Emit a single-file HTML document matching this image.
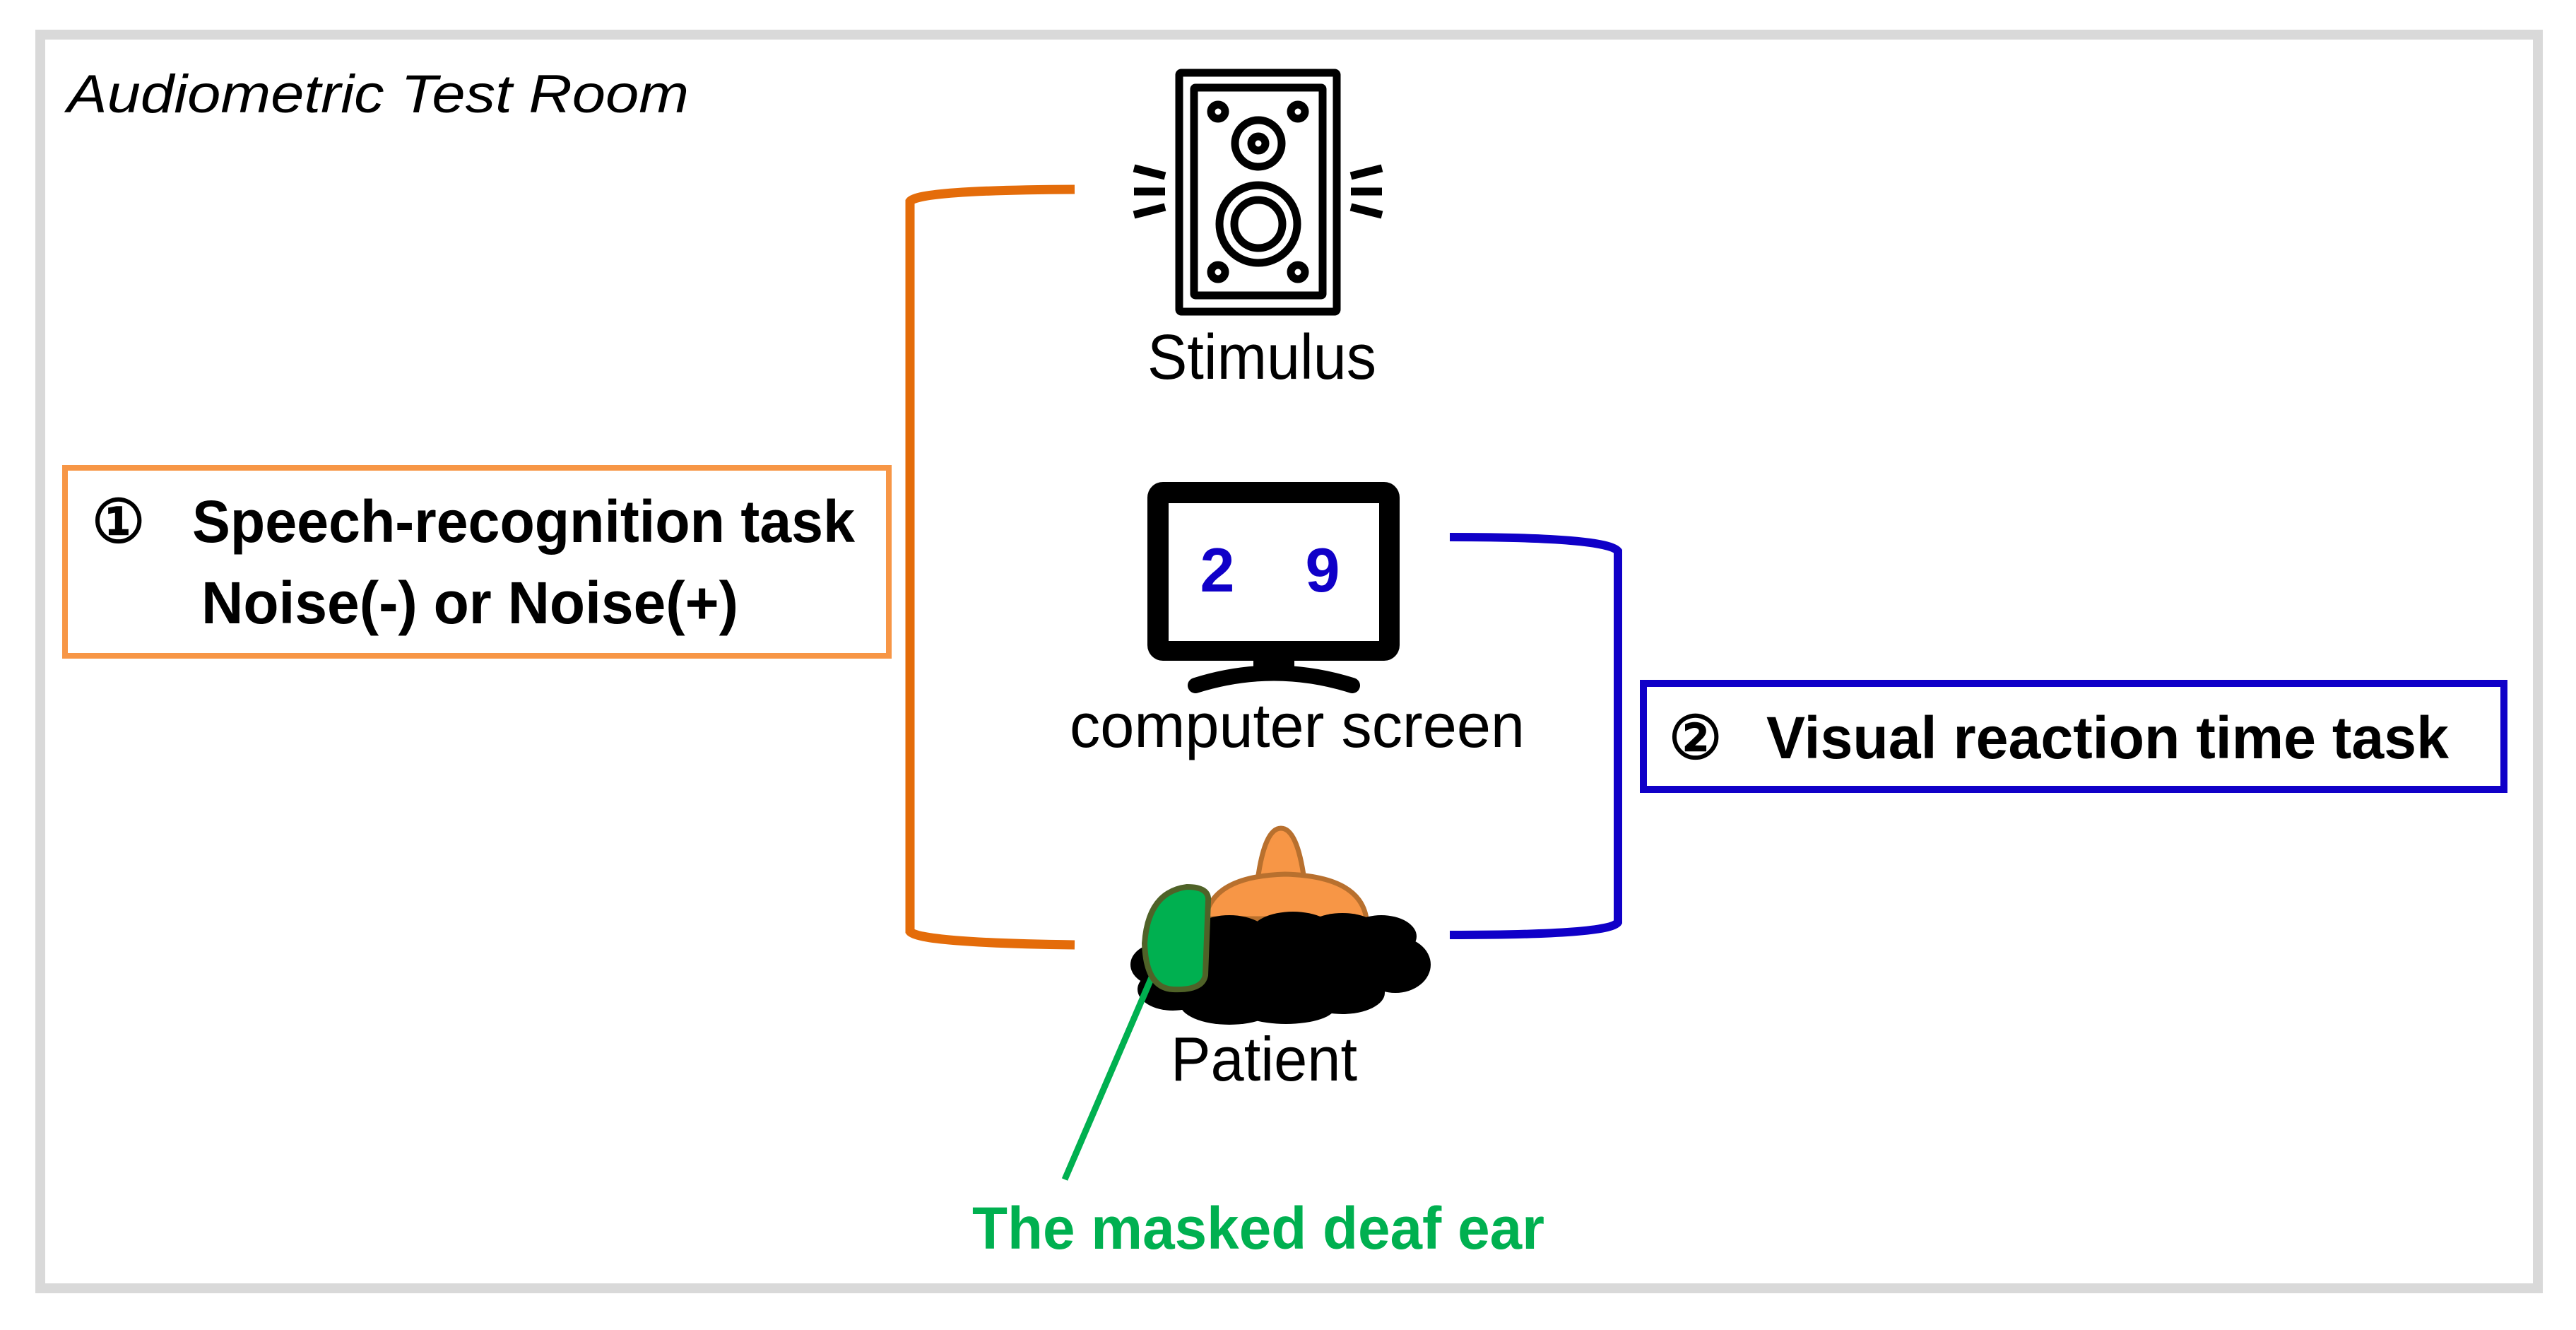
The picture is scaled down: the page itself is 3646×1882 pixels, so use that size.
<!DOCTYPE html>
<html><head><meta charset="utf-8"><style>html,body{margin:0;padding:0;background:#fff}svg{display:block}</style></head>
<body>
<svg width="3646" height="1882" viewBox="0 0 3646 1882" xmlns="http://www.w3.org/2000/svg" font-family="'Liberation Sans', sans-serif">
<rect x="0" y="0" width="3646" height="1882" fill="#fff"/>
<rect x="57" y="49" width="3535" height="1774" fill="none" stroke="#d9d9d9" stroke-width="14"/>
<text x="95" y="159" font-size="76" font-style="italic" textLength="880" lengthAdjust="spacingAndGlyphs">Audiometric Test Room</text>

<!-- orange bracket -->
<path d="M1521,268 Q1300,269 1288,285 L1288,1318 Q1300,1334 1521,1337" fill="none" stroke="#e46c0a" stroke-width="13"/>
<rect x="92" y="662" width="1166" height="266" fill="none" stroke="#f79646" stroke-width="8"/>
<text x="130" y="767" font-size="84" font-weight="bold">①</text>
<text x="272" y="767" font-size="84" font-weight="bold" textLength="938" lengthAdjust="spacingAndGlyphs">Speech-recognition task</text>
<text x="285" y="882" font-size="84" font-weight="bold" textLength="760" lengthAdjust="spacingAndGlyphs">Noise(-) or Noise(+)</text>

<!-- speaker -->
<g fill="none" stroke="#000" stroke-width="11">
<rect x="1669" y="103" width="223" height="338" rx="3"/>
<rect x="1690" y="124" width="182" height="294" rx="2"/>
<circle cx="1781" cy="203" r="33"/>
<circle cx="1781" cy="203" r="10"/>
<circle cx="1781" cy="317" r="55"/>
<circle cx="1781" cy="317" r="34"/>
<circle cx="1724" cy="158" r="10"/>
<circle cx="1837" cy="158" r="10"/>
<circle cx="1724" cy="385" r="10"/>
<circle cx="1837" cy="385" r="10"/>
<line x1="1605" y1="238" x2="1649" y2="249"/>
<line x1="1605" y1="271" x2="1649" y2="271"/>
<line x1="1605" y1="304" x2="1649" y2="293"/>
<line x1="1956" y1="238" x2="1912" y2="249"/>
<line x1="1956" y1="271" x2="1912" y2="271"/>
<line x1="1956" y1="304" x2="1912" y2="293"/>
</g>
<text x="1624" y="536" font-size="90" textLength="324" lengthAdjust="spacingAndGlyphs">Stimulus</text>

<!-- monitor -->
<rect x="1624" y="682" width="357" height="253" rx="22" fill="#000"/>
<rect x="1654" y="712" width="298" height="195" fill="#fff"/>
<rect x="1774" y="930" width="58" height="32" fill="#000"/>
<path d="M1692,970 Q1803,935 1914,970" fill="none" stroke="#000" stroke-width="22" stroke-linecap="round"/>
<text x="1723" y="837" font-size="88" font-weight="bold" fill="#1000c8" text-anchor="middle">2</text>
<text x="1872" y="837" font-size="88" font-weight="bold" fill="#1000c8" text-anchor="middle">9</text>
<text x="1514" y="1057" font-size="88" textLength="644" lengthAdjust="spacingAndGlyphs">computer screen</text>

<!-- blue bracket -->
<path d="M2052,760 Q2275,760 2290,780 L2290,1305 Q2280,1323 2052,1323" fill="none" stroke="#1000c8" stroke-width="12"/>
<rect x="2326" y="967" width="1218" height="150" fill="none" stroke="#1000c8" stroke-width="10"/>
<text x="2362" y="1073" font-size="84" font-weight="bold">②</text>
<text x="2500" y="1073" font-size="84" font-weight="bold" textLength="966" lengthAdjust="spacingAndGlyphs">Visual reaction time task</text>

<!-- patient -->
<path d="M1780,1245 Q1790,1172 1813,1172 Q1836,1172 1846,1245 Z" fill="#f79646" stroke="#b8702e" stroke-width="7"/>
<path d="M1706,1300 Q1715,1240 1819,1237 Q1925,1240 1934,1300 Z" fill="#f79646" stroke="#b8702e" stroke-width="7"/>
<g fill="#000">
<ellipse cx="1640" cy="1365" rx="40" ry="30"/>
<ellipse cx="1660" cy="1400" rx="50" ry="30"/>
<ellipse cx="1740" cy="1420" rx="70" ry="30"/>
<ellipse cx="1820" cy="1425" rx="70" ry="24"/>
<ellipse cx="1900" cy="1405" rx="60" ry="30"/>
<ellipse cx="1975" cy="1365" rx="50" ry="40"/>
<ellipse cx="1955" cy="1325" rx="50" ry="30"/>
<ellipse cx="1740" cy="1330" rx="60" ry="35"/>
<ellipse cx="1830" cy="1320" rx="60" ry="30"/>
<ellipse cx="1900" cy="1320" rx="55" ry="28"/>
<rect x="1660" y="1320" width="300" height="85"/>
</g>
<line x1="1630" y1="1383" x2="1507" y2="1669" stroke="#00b050" stroke-width="9"/>
<path d="M1710,1275 Q1712,1255 1680,1255 Q1625,1262 1620,1335 Q1622,1398 1660,1400 Q1702,1402 1706,1380 Z" fill="#00b050" stroke="#4f6228" stroke-width="8"/>
<text x="1657" y="1529" font-size="88" textLength="264" lengthAdjust="spacingAndGlyphs">Patient</text>
<text x="1376" y="1767" font-size="84" font-weight="bold" fill="#00b050" textLength="810" lengthAdjust="spacingAndGlyphs">The masked deaf ear</text>
</svg>
</body></html>
